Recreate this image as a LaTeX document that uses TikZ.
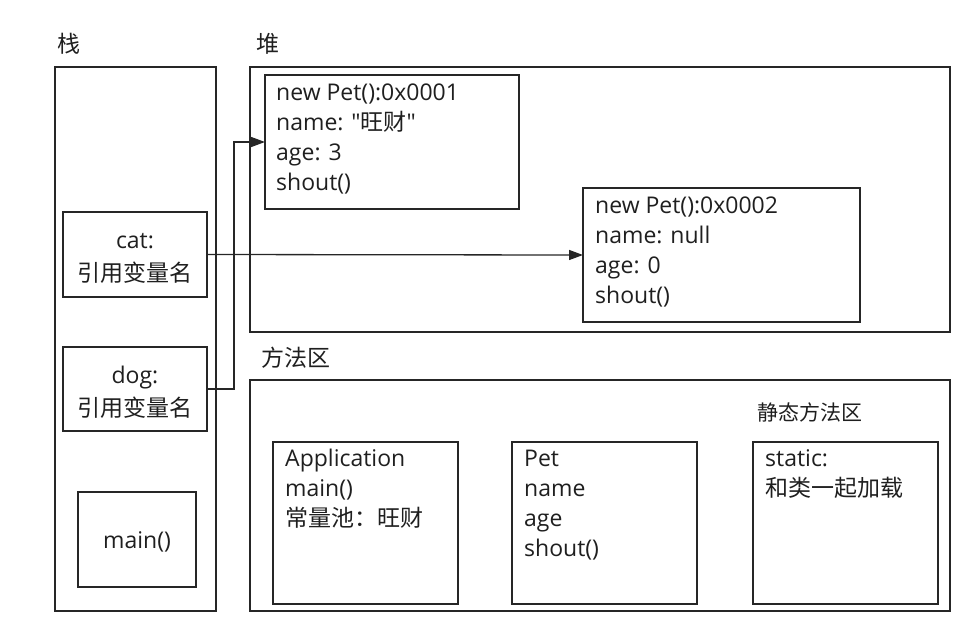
\documentclass[tikz,border=0pt]{standalone}
\usepackage{fontspec}
\setmainfont{Open Sans}[Ligatures=TeXOff]
\newfontfamily\cjk{Noto Sans CJK SC}[Ligatures=TeXOff]
\usetikzlibrary{arrows.meta}
\definecolor{ln}{HTML}{262626}
\begin{document}
\begin{tikzpicture}[x=1pt,y=-1pt,
  every node/.style={font=\fontsize{23}{30}\selectfont, text=black!88},
  box/.style={draw=ln, line width=1.6pt, inner sep=0pt, outer sep=0pt, anchor=north west},
  txt/.style={anchor=base west, inner sep=0pt},
  ctr/.style={anchor=base, inner sep=0pt},
  link/.style={draw=ln, line width=1.3pt, -{Triangle[length=14pt,width=10pt]}}]
\useasboundingbox (0,0) rectangle (976,638);
% titles
\node[ctr] (tstack) at (69,52) {\cjk 栈};
\node[ctr] (theap) at (268,52) {\cjk 堆};
\node[ctr] (tmeth) at (296,366) {\cjk 方法区};
\node[ctr] (tstat) at (810,420) {\cjk\fontsize{21}{24}\selectfont 静态方法区};
% areas
\node[box, minimum width=161pt, minimum height=544pt] (stack) at (55,67) {};
\node[box, minimum width=700pt, minimum height=265pt] (heap) at (250,67) {};
\node[box, minimum width=700pt, minimum height=231pt] (meth) at (250,380) {};
% stack boxes
\node[box, minimum width=144pt, minimum height=85pt] (cat) at (63,212) {};
\node[box, minimum width=144pt, minimum height=84pt] (dog) at (63,347) {};
\node[box, minimum width=118pt, minimum height=95pt] (main) at (78,492) {};
\node[ctr] (catl1) at (135,248) {cat:};
\node[ctr] (catl2) at (135,281) {\cjk 引用变量名};
\node[ctr] (dogl1) at (135,383) {dog:};
\node[ctr] (dogl2) at (135,416) {\cjk 引用变量名};
\node[ctr] (mainl) at (137,548) {main()};
% heap objects
\node[box, minimum width=254pt, minimum height=134pt] (pet1) at (265,75) {};
\node[box, minimum width=277pt, minimum height=134pt] (pet2) at (583,188) {};
\foreach \t [count=\i] in {new Pet():0x0001, {name: "{\cjk 旺财}"}, age: 3, shout()}
  \node[txt] (p1l\i) at (276,{100+30*(\i-1)}) {\t};
\foreach \t [count=\i] in {new Pet():0x0002, name: null, age: 0, shout()}
  \node[txt] (p2l\i) at (595,{213+30*(\i-1)}) {\t};
% method area boxes
\node[box, minimum width=185pt, minimum height=162pt] (app) at (273,442) {};
\node[box, minimum width=185pt, minimum height=162pt] (petc) at (512,442) {};
\node[box, minimum width=185pt, minimum height=162pt] (stc) at (753,442) {};
\foreach \t [count=\i] in {Application, main(), {{\cjk 常量池：旺财}}}
  \node[txt] (al\i) at (285,{466+30*(\i-1)}) {\t};
\foreach \t [count=\i] in {Pet, name, age, shout()}
  \node[txt] (pl\i) at (524,{466+30*(\i-1)}) {\t};
\foreach \t [count=\i] in {static:, {{\cjk 和类一起加载}}}
  \node[txt] (sl\i) at (765,{466+30*(\i-1)}) {\t};
% connectors
\draw[link] (cat.east) -- (pet2.west);
\coordinate (bend) at (234,389);
\draw[link] (dog.east) -- (bend) |- (pet1.west);
\end{tikzpicture}
\end{document}
